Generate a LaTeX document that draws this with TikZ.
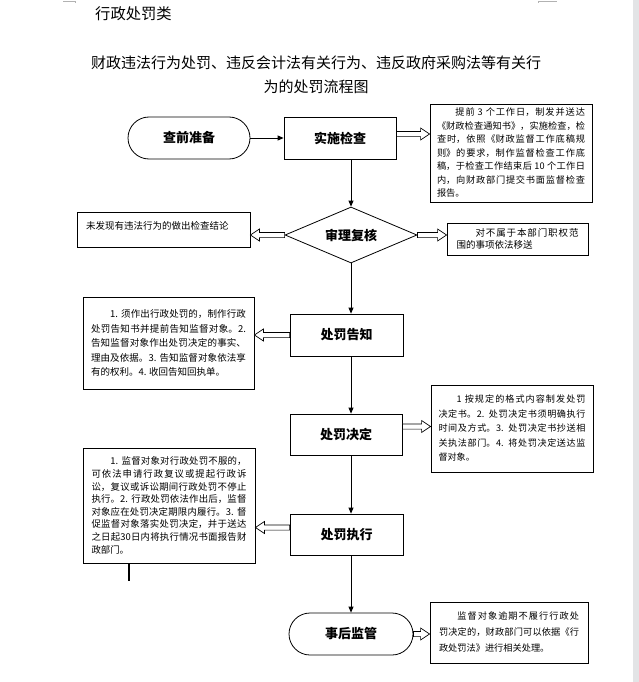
\documentclass[tikz,border=0pt]{standalone}
\usepackage{fontspec}
\setmainfont{Noto Sans CJK SC}
\usetikzlibrary{arrows.meta,shapes.geometric,calc}
\XeTeXlinebreaklocale "zh"
\XeTeXlinebreakskip=0pt plus 1pt
\definecolor{barcol}{RGB}{227,228,230}
\newcommand\hblockarrow[2]{%
  \draw[blockarr] let \p1=#1, \p2=#2, \n1={ifthenelse(\x2>\x1,1,-1)}, \n2={\x2-9*\n1} in
    (\x1,{\y1+2.6pt}) -- ({\n2*1pt},{\y1+2.6pt}) -- ({\n2*1pt},{\y1+6pt}) -- (\x2,\y1)
    -- ({\n2*1pt},{\y1-6pt}) -- ({\n2*1pt},{\y1-2.6pt}) -- (\x1,{\y1-2.6pt}) -- cycle;}
\tikzset{
  mainshape/.style={draw, line width=0.8pt, inner sep=0pt, font=\fontsize{13}{15}\selectfont\bfseries},
  proc/.style={mainshape, rectangle, minimum width=112pt, minimum height=42pt},
  stad/.style={mainshape, rectangle, rounded corners=21pt, minimum width=122pt, minimum height=42pt},
  dia/.style={mainshape, diamond, aspect=2.36, minimum width=132pt, minimum height=56pt},
  note/.style={draw, line width=0.8pt, rectangle, inner ysep=2pt, align=justify},
  arr/.style={line width=0.8pt, -{Triangle[length=6pt,width=5pt]}},
  blockarr/.style={draw, line width=0.7pt, fill=white, line join=miter},
}
\begin{document}
\begin{tikzpicture}[x=1pt,y=-1pt]
\useasboundingbox (0,0) rectangle (639,682);
\fill[barcol] (633,0) rectangle (639,682);
\draw[gray!60, line width=0.6pt] (63,1) -- (75.5,1) -- (75.5,3);
\draw[gray!60, line width=0.6pt] (538,3) -- (538,1) -- (557,1);

% titles
\node[anchor=west, inner sep=0pt, font=\fontsize{15.3}{18}\selectfont] (t1) at (95,14) {行政处罚类};
\node[align=center, inner sep=0pt, font=\fontsize{15}{24}\selectfont] (t2) at (316,75)
  {财政违法行为处罚、违反会计法有关行为、违反政府采购法等有关行\\为的处罚流程图};

% main column
\coordinate (mx) at (351,0);
\node[stad] (qz) at (189,138) {查前准备};
\node[proc] (ss) at (340,138) {实施检查};
\node[dia] (sh) at (351,235) {审理复核};
\node[proc, minimum width=113pt] (gz) at (346.5,335) {处罚告知};
\node[proc, minimum height=41pt] (jd) at (346,434.5) {处罚决定};
\node[proc, minimum width=113pt, minimum height=41pt] (zx) at (346.5,534.5) {处罚执行};
\node[stad, minimum width=124pt] (sj) at (351,634) {事后监管};

% side notes
\node[note, text width=148pt, inner xsep=7pt, minimum height=98pt, font=\fontsize{9.2}{13.5}\selectfont] (b1) at (511,153)
  {\hspace*{2em}提前 3 个工作日，制发并送达\linebreak 《财政检查通知书》，实施检查，检\linebreak 查时，依照《财政监督工作底稿规\linebreak 则》的要求，制作监督检查工作底\linebreak 稿，于检查工作结束后 10 个工作日\linebreak 内，向财政部门提交书面监督检查\linebreak 报告。};
\node[note, align=left, text width=155pt, inner xsep=9pt, minimum height=35pt, text depth=8pt, font=\fontsize{9.5}{11.5}\selectfont] (b2) at (163.5,229.5)
  {未发现有违法行为的做出检查结论};
\node[note, text width=122pt, inner xsep=9.5pt, minimum height=32pt, font=\fontsize{9.5}{11.5}\selectfont] (b3) at (517.5,239)
  {\hspace*{2em}对不属于本部门职权范\linebreak 围的事项依法移送};
\node[note, text width=155pt, inner xsep=8pt, minimum height=92pt, font=\fontsize{9.5}{14.5}\selectfont] (b4) at (168.5,343)
  {\hspace*{2em}1. 须作出行政处罚的，制作行政\linebreak 处罚告知书并提前告知监督对象。2.\linebreak 告知监督对象作出处罚决定的事实、\linebreak 理由及依据。3. 告知监督对象依法享\linebreak 有的权利。4. 收回告知回执单。};
\node[note, text width=147pt, inner xsep=7.5pt, minimum height=87pt, font=\fontsize{9.1}{14.5}\selectfont] (b5) at (512,428.5)
  {\hspace*{2em}1 按规定的格式内容制发处罚\linebreak 决定书。2. 处罚决定书须明确执行\linebreak 时间及方式。3. 处罚决定书抄送相\linebreak 关执法部门。4. 将处罚决定送达监\linebreak 督对象。};
\node[note, text width=155pt, inner xsep=8.5pt, minimum height=115pt, font=\fontsize{9.4}{12.6}\selectfont] (b6) at (169,505.5)
  {\hspace*{2em}1. 监督对象对行政处罚不服的，\linebreak 可依法申请行政复议或提起行政诉\linebreak 讼，复议或诉讼期间行政处罚不停止\linebreak 执行。2. 行政处罚依法作出后，监督\linebreak 对象应在处罚决定期限内履行。3. 督\linebreak 促监督对象落实处罚决定，并于送达\linebreak 之日起30日内将执行情况书面报告财\linebreak 政部门。};
\node[note, text width=140pt, inner xsep=9pt, minimum height=61pt, font=\fontsize{9.2}{16}\selectfont] (b7) at (509,632.5)
  {\hspace*{2em}监督对象逾期不履行行政处\linebreak 罚决定的，财政部门可以依据《行\linebreak 政处罚法》进行相关处理。};

% flow arrows
\draw[arr] (qz.east) -- (ss.west);
\draw[arr] (ss.south -| mx) -- (sh.north);
\draw[arr] (sh.south) -- (gz.north -| mx);
\draw[arr] (gz.south -| mx) -- (jd.north -| mx);
\draw[arr] (jd.south -| mx) -- (zx.north -| mx);
\draw[arr] (zx.south -| mx) -- (sj.north);

% block arrows
\hblockarrow{($(ss.east)+(0,-4)$)}{(b1.west)}
\hblockarrow{(sh.west)}{(b2.east)}
\hblockarrow{(sh.east)}{(b3.west)}
\hblockarrow{(gz.west)}{(b4.east)}
\hblockarrow{($(jd.east)+(0,-8)$)}{(b5.west)}
\hblockarrow{($(zx.west)+(0,-7)$)}{(b6.east)}
\hblockarrow{(sj.east)}{(b7.west)}

% stray mark under note
\coordinate (cur) at (129,581);
\draw[line width=1.6pt] (b6.south -| cur) -- (cur);
\end{tikzpicture}
\end{document}
